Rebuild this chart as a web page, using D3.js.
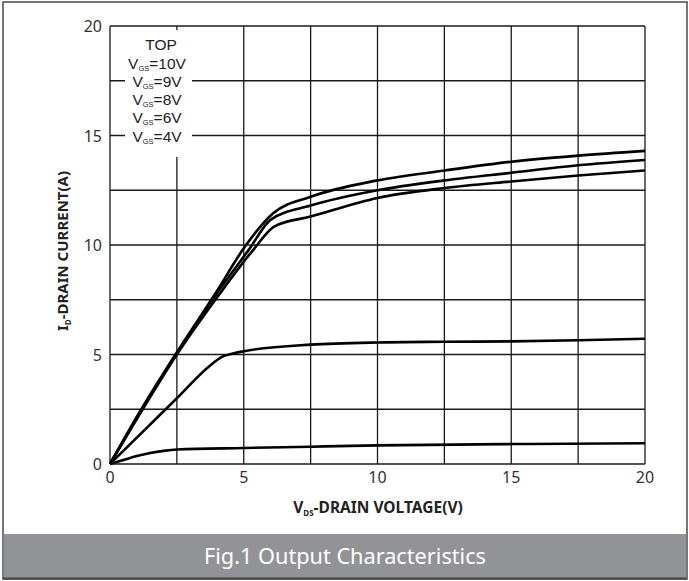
<!DOCTYPE html>
<html>
<head>
<meta charset="utf-8">
<script src="https://cdn.jsdelivr.net/npm/d3@7"></script>
<style>
  html, body { margin: 0; padding: 0; background: #fff; }
  svg { display: block; font-family: "Noto Sans", "Open Sans", sans-serif; }
</style>
</head>
<body>
<svg id="chart" width="689" height="581"></svg>
<script>
// V_DS (V) / I_D (A), one pair of arrays per gate voltage
const vds10 = [0, 1, 2.5, 4, 5, 6.1, 7.5, 10, 12.5, 15, 17.5, 20];
const id10 = [0, 2.15, 5.1, 7.9, 9.85, 11.45, 12.2, 12.95, 13.4, 13.8, 14.08, 14.3];
const vds9 = [0, 1, 2.5, 4, 5.2, 6.0, 7.5, 10, 12.5, 15, 17.5, 20];
const id9 = [0, 2.1, 5.05, 7.8, 9.8, 11.15, 11.8, 12.5, 12.95, 13.3, 13.64, 13.88];
const vds8 = [0, 1, 2.5, 4, 5.35, 6.15, 7.5, 10, 12.5, 15, 17.5, 20];
const id8 = [0, 2.05, 5.0, 7.6, 9.77, 10.85, 11.3, 12.15, 12.6, 12.9, 13.17, 13.4];
const vds6 = [0, 2.5, 3.7, 4.2, 4.6, 5, 7.5, 10, 12.5, 15, 17.5, 20];
const id6 = [0, 3.0, 4.45, 4.9, 5.05, 5.15, 5.45, 5.55, 5.58, 5.6, 5.65, 5.72];
const vds4 = [0, 0.5, 1, 1.5, 2, 2.5, 5, 7.5, 10, 15, 20];
const id4 = [0, 0.18, 0.36, 0.5, 0.6, 0.66, 0.73, 0.79, 0.85, 0.91, 0.95];

const legendLabels = ["10V", "9V", "8V", "6V", "4V"];
const tickValues = [0, 5, 10, 15, 20];
const gridValues = [0, 2.5, 5, 7.5, 10, 12.5, 15, 17.5, 20];
const caption = "Fig.1 Output Characteristics";

const series = [
    [vds10, id10], [vds9, id9], [vds8, id8], [vds6, id6], [vds4, id4]
].map(([xs, ys]) => xs.map((v, i) => [v, ys[i]]));

const svg = d3.select("#chart");
const W = 689, H = 581;
const plotL = 110, plotR = 645, plotT = 26, plotB = 464;

const x = d3.scaleLinear().domain([0, 20]).range([plotL, plotR]);
const y = d3.scaleLinear().domain([0, 20]).range([plotB, plotT]);

// outer frame and caption bar
svg.append("rect")
    .attr("x", 3).attr("y", 2).attr("width", W - 5).attr("height", H - 4)
    .attr("fill", "#fff").attr("stroke", "#555").attr("stroke-width", 1.6);
svg.append("rect")
    .attr("x", 3.8).attr("y", 534).attr("width", W - 6.6).attr("height", 44)
    .attr("fill", "#929396");
svg.append("line")
    .attr("x1", 3).attr("x2", W - 2).attr("y1", 578.5).attr("y2", 578.5)
    .attr("stroke", "#444").attr("stroke-width", 2);
svg.append("text")
    .attr("x", 345).attr("y", 564)
    .attr("text-anchor", "middle")
    .attr("fill", "#fff")
    .attr("font-size", 22)
    .attr("textLength", 282).attr("lengthAdjust", "spacingAndGlyphs")
    .text(caption);

// grid
const grid = svg.append("g").attr("stroke", "#1a1a1a").attr("stroke-width", 1.3);
grid.selectAll("line.v").data(gridValues).join("line")
    .attr("class", "v")
    .attr("x1", d => x(d)).attr("x2", d => x(d))
    .attr("y1", plotT).attr("y2", plotB);
grid.selectAll("line.h").data(gridValues).join("line")
    .attr("class", "h")
    .attr("x1", plotL).attr("x2", plotR)
    .attr("y1", d => y(d)).attr("y2", d => y(d));

// tick labels
svg.append("g")
    .attr("font-size", 16).attr("fill", "#333").attr("text-anchor", "middle")
    .selectAll("text").data(tickValues).join("text")
    .attr("x", d => x(d)).attr("y", plotB + 19)
    .text(d => d);
svg.append("g")
    .attr("font-size", 16).attr("fill", "#333").attr("text-anchor", "end")
    .selectAll("text").data(tickValues).join("text")
    .attr("x", plotL - 8).attr("y", d => y(d) + 6)
    .text(d => d);

// curves
const line = d3.line()
    .x(d => x(d[0]))
    .y(d => y(d[1]))
    .curve(d3.curveMonotoneX);
svg.append("g")
    .selectAll("path").data(series).join("path")
    .attr("d", line)
    .attr("fill", "none")
    .attr("stroke", "#000")
    .attr("stroke-width", 2.6)
    .attr("stroke-linejoin", "round");

// legend (white box over the grid); tighter-metric font so the rows fit
svg.append("rect")
    .attr("x", 125).attr("y", 30).attr("width", 67).attr("height", 127)
    .attr("fill", "#fff");
const legend = svg.append("g")
    .attr("font-family", "'Liberation Sans', Arial, sans-serif")
    .attr("font-size", 15.5).attr("fill", "#222").attr("text-anchor", "middle");
legend.append("text").attr("x", 161).attr("y", 50).text("TOP");
legendLabels.forEach((lab, i) => {
    const t = legend.append("text").attr("x", 157).attr("y", 68.5 + i * 18.3);
    t.append("tspan").text("V");
    t.append("tspan").attr("font-size", 7.5).attr("dy", 2).text("GS");
    t.append("tspan").attr("dy", -2).text("=" + lab);
});

// axis titles
const xt = svg.append("text")
    .attr("x", 378).attr("y", 513)
    .attr("text-anchor", "middle")
    .attr("font-size", 15.5).attr("font-weight", "bold").attr("fill", "#222");
xt.append("tspan").text("V");
xt.append("tspan").attr("font-size", 8).attr("dy", 3).text("DS");
xt.append("tspan").attr("dy", -3).text("-DRAIN VOLTAGE(V)");

const yt = svg.append("text")
    .attr("transform", "translate(68,251) rotate(-90)")
    .attr("text-anchor", "middle")
    .attr("font-size", 15).attr("font-weight", "bold").attr("fill", "#222");
yt.append("tspan").text("I");
yt.append("tspan").attr("font-size", 8).attr("dy", 3).text("D");
yt.append("tspan").attr("dy", -3).text("-DRAIN CURRENT(A)");
</script>
</body>
</html>
